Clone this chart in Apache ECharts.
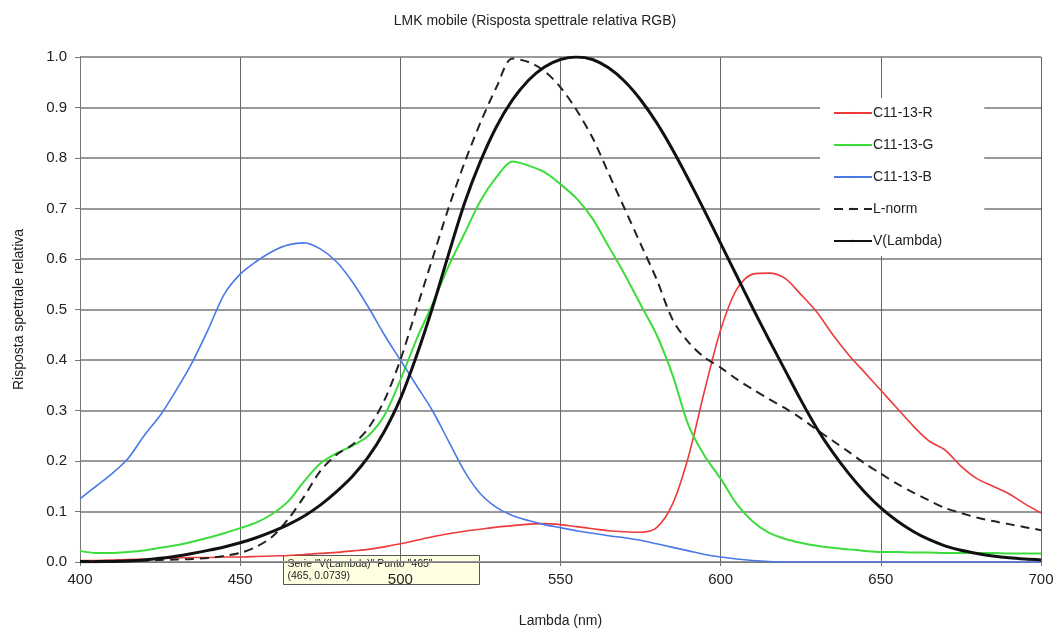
<!DOCTYPE html>
<html>
<head>
<meta charset="utf-8">
<script src="https://cdn.jsdelivr.net/npm/echarts@6/dist/echarts.min.js"></script>
<style>
  html, body { margin: 0; padding: 0; background: #fff; }
  #chart { width: 1063px; height: 635px; }
</style>
</head>
<body>
<div id="chart"></div>
<script>
// lunghezze d'onda (nm), passo 5
var lambda = [];
for (var w = 400; w <= 700; w += 5) lambda.push(w);

var redR = [0.003,0.003,0.004,0.005,0.006,0.007,0.008,0.009,0.009,0.010,0.010,0.011,0.012,0.013,0.015,0.017,0.019,0.022,0.025,0.030,
  0.036,0.043,0.050,0.056,0.061,0.065,0.069,0.072,0.075,0.076,0.074,0.070,0.066,0.062,0.060,0.059,0.068,0.115,0.210,0.340,
  0.460,0.540,0.570,0.572,0.562,0.530,0.495,0.450,0.410,0.375,0.340,0.305,0.270,0.240,0.222,0.190,0.165,0.150,0.135,0.115,0.097];

var greenG = [0.022,0.018,0.018,0.020,0.023,0.028,0.033,0.040,0.048,0.057,0.067,0.078,0.095,0.120,0.160,0.195,0.215,0.230,0.250,0.290,
  0.360,0.440,0.510,0.585,0.650,0.715,0.762,0.793,0.785,0.772,0.748,0.720,0.680,0.625,0.570,0.510,0.450,0.370,0.270,0.210,
  0.165,0.115,0.080,0.058,0.046,0.038,0.032,0.028,0.025,0.022,0.020,0.020,0.019,0.019,0.018,0.018,0.018,0.018,0.017,0.017,0.017];

var blueB = [0.125,0.150,0.175,0.205,0.250,0.290,0.340,0.395,0.460,0.530,0.570,0.595,0.615,0.628,0.632,0.620,0.595,0.555,0.505,0.450,
  0.400,0.350,0.300,0.240,0.180,0.135,0.108,0.092,0.082,0.074,0.068,0.062,0.057,0.052,0.048,0.043,0.036,0.029,0.022,0.015,
  0.010,0.006,0.003,0.001,0,0,0,0,0,0,0,0,0,0,0,0,0,0,0,0,0];

var lNorm = [0.002,0.002,0.002,0.003,0.003,0.004,0.005,0.006,0.008,0.012,0.018,0.030,0.050,0.085,0.130,0.180,0.212,0.232,0.265,0.320,
  0.400,0.500,0.600,0.700,0.790,0.870,0.940,0.997,0.990,0.972,0.940,0.895,0.840,0.770,0.700,0.630,0.560,0.480,0.435,0.405,
  0.385,0.362,0.342,0.323,0.305,0.285,0.262,0.240,0.218,0.195,0.175,0.155,0.138,0.122,0.107,0.097,0.088,0.081,0.075,0.069,0.063];

// V(lambda) CIE fotopica
var vLambda = [0.0004,0.00064,0.0012,0.00218,0.004,0.0073,0.0116,0.01684,0.023,0.0298,0.038,0.048,0.06,0.0739,0.091,0.1126,0.139,0.1693,0.208,0.2586,
  0.323,0.4073,0.503,0.6082,0.71,0.7932,0.862,0.9149,0.954,0.9803,0.995,1.0,0.995,0.9786,0.952,0.9154,0.87,0.8163,0.757,0.6949,
  0.631,0.5668,0.503,0.4412,0.381,0.321,0.265,0.217,0.175,0.1382,0.107,0.0816,0.061,0.0446,0.032,0.0232,0.017,0.01192,0.0082,0.00577,0.0041];

function pairs(arr) {
  var out = [];
  for (var i = 0; i < lambda.length; i++) out.push([lambda[i], arr[i]]);
  return out;
}

function serie(name, arr, color, width, type) {
  return {
    name: name,
    type: 'line',
    data: pairs(arr),
    showSymbol: false,
    symbol: 'none',
    smooth: 0.3,
    lineStyle: { color: color, width: width, type: type || 'solid' },
    itemStyle: { color: color }
  };
}

var chart = echarts.init(document.getElementById('chart'), null, { renderer: 'canvas' });

var option = {
  backgroundColor: '#fff',
  animation: false,
  textStyle: { fontFamily: 'Liberation Sans, Arial, sans-serif' },
  title: {
    text: 'LMK mobile (Risposta spettrale relativa RGB)',
    left: 530,
    textAlign: 'center',
    top: 9,
    textStyle: { fontSize: 14, fontWeight: 'normal', color: '#222' }
  },
  grid: { left: 80, right: 22, top: 57, bottom: 73 },
  legend: {
    orient: 'vertical',
    left: 820,
    top: 98,
    itemGap: 18,
    itemWidth: 38,
    itemHeight: 3,
    padding: [8, 42, 8, 13],
    backgroundColor: '#fff',
    textStyle: { fontSize: 14, color: '#222', padding: [0, 0, 0, -4] },
    data: ['C11-13-R', 'C11-13-G', 'C11-13-B', 'L-norm', 'V(Lambda)']
  },
  xAxis: {
    type: 'value',
    min: 400, max: 700, interval: 50,
    name: 'Lambda (nm)',
    nameLocation: 'middle',
    nameGap: 52,
    nameTextStyle: { fontSize: 14, color: '#222' },
    axisLine: { lineStyle: { color: '#777', width: 1 } },
    axisTick: { show: true, length: 4, lineStyle: { color: '#777' } },
    axisLabel: { fontSize: 15, color: '#222', margin: 10 },
    splitLine: { show: true, lineStyle: { color: '#666', width: 1 } }
  },
  yAxis: {
    type: 'value',
    min: 0, max: 1, interval: 0.1,
    name: 'Risposta spettrale relativa',
    nameLocation: 'middle',
    nameGap: 54,
    nameTextStyle: { fontSize: 14, color: '#222' },
    axisLine: { show: true, lineStyle: { color: '#777', width: 1 } },
    axisTick: { show: true, length: 5, lineStyle: { color: '#777' } },
    axisLabel: {
      fontSize: 15, color: '#222', margin: 13,
      formatter: function (v) { return v.toFixed(1); }
    },
    splitLine: { show: true, lineStyle: { color: '#999', width: 2 } }
  },
  series: [
    serie('C11-13-R', redR, '#ee3a3a', 1.6),
    serie('C11-13-G', greenG, '#3ddc3d', 2),
    serie('C11-13-B', blueB, '#4a78e6', 1.6),
    serie('L-norm', lNorm, '#222', 2, [9, 6]),
    serie('V(Lambda)', vLambda, '#111', 3)
  ],
  graphic: [{
    type: 'group',
    left: 283,
    top: 555,
    children: [
      { type: 'rect', shape: { x: 0, y: 0, width: 196, height: 29 },
        style: { fill: '#ffffe1', stroke: '#555', lineWidth: 1 } },
      { type: 'text', x: 4, y: 3,
        style: { text: 'Serie "V(Lambda)" Punto "465"\n(465, 0.0739)', fontSize: 10.5,
          lineHeight: 12, fill: '#222', fontFamily: 'Liberation Sans, Arial, sans-serif' } }
    ]
  }]
};

chart.setOption(option);
</script>
</body>
</html>
